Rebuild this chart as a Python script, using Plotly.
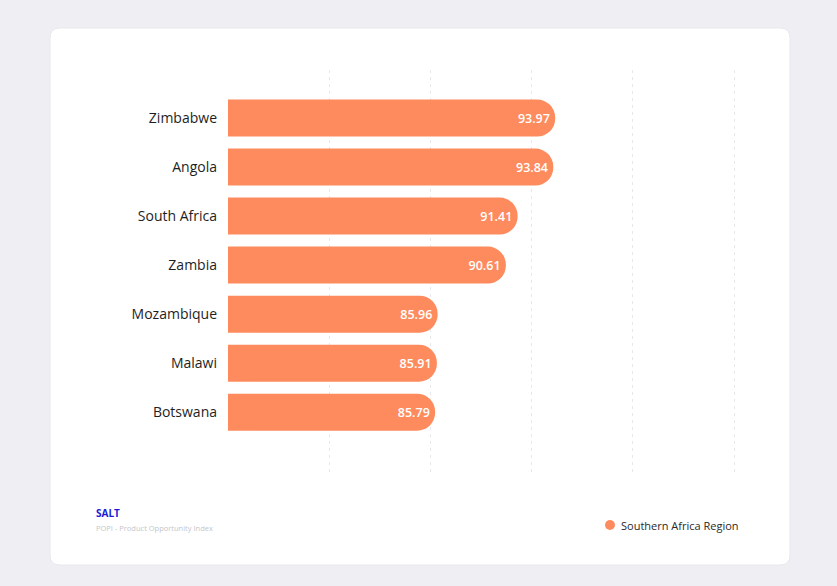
import plotly.graph_objects as go

# Product Opportunity Index scores, Southern Africa region
countries = ["Zimbabwe", "Angola", "South Africa", "Zambia", "Mozambique", "Malawi", "Botswana"]
scores = [93.97, 93.84, 91.41, 90.61, 85.96, 85.91, 85.79]
series_name = "Southern Africa Region"
source_brand = "SALT"
source_note = "POPI - Product Opportunity Index"

BAR_COLOR = "#FE8B5E"
FONT = "'Open Sans', Lato, sans-serif"

W, H = 837, 586
# plot area in pixels
L, R, T, B = 228, 745, 70, 472
PW, PH = R - L, B - T

# value axis window
x_min = 71.68
px_per_unit = 14.68
x_max = x_min + PW / px_per_unit
grid_step = 101.2 / px_per_unit


def px_x(p):
    return (p - L) / PW


def px_y(p):
    return (B - p) / PH


fig = go.Figure()

fig.add_trace(go.Bar(
    x=scores,
    y=countries,
    orientation="h",
    name=series_name,
    marker=dict(color=BAR_COLOR, cornerradius=18, line=dict(width=0)),
    width=0.755,
    text=[f"{v:.2f}" for v in scores],
    textposition="inside",
    insidetextanchor="end",
    textfont=dict(color="white", size=12.5, family=FONT, weight=600),
    showlegend=False,
    hoverinfo="x+y",
))

# white card with rounded corners behind the chart
cx0, cx1, cy0, cy1, r = 50, 790, 28, 565, 10
rx, ry = r / PW, r / PH
X0, X1, Y0, Y1 = px_x(cx0), px_x(cx1), px_y(cy1), px_y(cy0)
card_path = (
    f"M {X0+rx},{Y1} L {X1-rx},{Y1} Q {X1},{Y1} {X1},{Y1-ry} "
    f"L {X1},{Y0+ry} Q {X1},{Y0} {X1-rx},{Y0} "
    f"L {X0+rx},{Y0} Q {X0},{Y0} {X0},{Y0+ry} "
    f"L {X0},{Y1-ry} Q {X0},{Y1} {X0+rx},{Y1} Z"
)
fig.add_shape(type="path", path=card_path, xref="paper", yref="paper",
              fillcolor="white", line=dict(color="#e7e8ec", width=1), layer="below")

# series key: dot + label
dot_r = 5
fig.add_shape(type="circle", xref="paper", yref="paper",
              x0=px_x(610 - dot_r), x1=px_x(610 + dot_r),
              y0=px_y(525 + dot_r), y1=px_y(525 - dot_r),
              fillcolor=BAR_COLOR, line=dict(width=0))
fig.add_annotation(x=px_x(619), y=px_y(525), xref="paper", yref="paper",
                   text=series_name, showarrow=False,
                   xanchor="left", yanchor="middle",
                   font=dict(family=FONT, size=11, color="#2a2a2a"))

fig.add_annotation(x=px_x(94), y=px_y(513), xref="paper", yref="paper",
                   text=f"<b>{source_brand}</b>", showarrow=False,
                   xanchor="left", yanchor="middle",
                   font=dict(family=FONT, size=10, color="#1b1bd6"))
fig.add_annotation(x=px_x(94), y=px_y(528), xref="paper", yref="paper",
                   text=source_note, showarrow=False,
                   xanchor="left", yanchor="middle",
                   font=dict(family=FONT, size=7.5, color="#c4c6cc"))

fig.update_layout(
    width=W, height=H,
    margin=dict(l=L, r=W - R, t=T, b=H - B),
    paper_bgcolor="#efeff3",
    plot_bgcolor="rgba(0,0,0,0)",
    font=dict(family=FONT, color="#1e1e1e"),
    showlegend=False,
    xaxis=dict(
        range=[x_min, x_max],
        tick0=x_min, dtick=grid_step,
        showticklabels=False,
        showgrid=True, gridcolor="#e6e8ec", griddash="3px,4px", gridwidth=1,
        zeroline=False, showline=False, ticks="",
    ),
    yaxis=dict(
        categoryorder="array", categoryarray=countries,
        range=[7.22, -0.98],
        showgrid=False, zeroline=False, showline=False,
        ticks="", ticklabelstandoff=10,
        tickfont=dict(size=14, color="#1e1e1e", family=FONT),
    ),
    hovermode="closest",
)

fig.write_html("out.html")
